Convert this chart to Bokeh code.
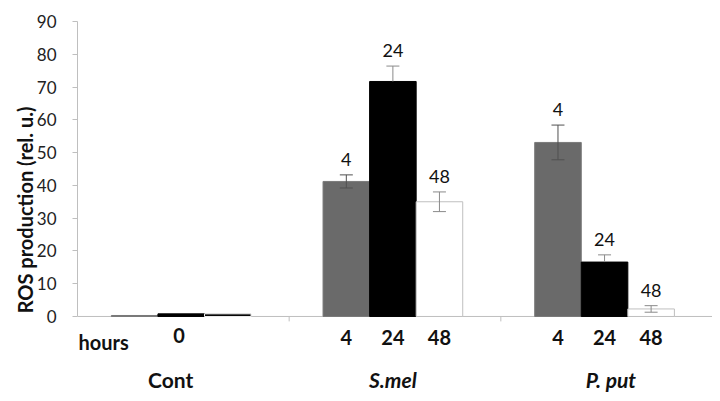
from bokeh.plotting import figure
from bokeh.models import Range1d, ColumnDataSource, Whisker, TeeHead, FixedTicker
from bokeh.embed import file_html
from bokeh.resources import INLINE
from bokeh.core.properties import value

# ---- data ----
groups = ["Cont", "S.mel", "P. put"]
group_style = ["bold", "bold italic", "bold italic"]
hour_labels = ["4", "24", "48"]
cont_hour = "0"
gray_vals = [0.3, 41.2, 53.1]
gray_err = [0.0, 2.0, 5.3]
black_vals = [0.8, 71.7, 16.6]
black_err = [0.0, 4.7, 2.2]
white_vals = [0.8, 35.0, 2.3]
white_err = [0.0, 3.0, 1.0]
y_ticks = [0, 10, 20, 30, 40, 50, 60, 70, 80, 90]

FONT = "Lato"
W, H = 712, 393

p = figure(width=W, height=H, output_backend="svg", toolbar_location=None,
           x_range=Range1d(0, 3), y_range=Range1d(-23.5, 90),
           min_border_left=77, min_border_right=0, min_border_top=21, min_border_bottom=0)
p.outline_line_color = None
p.grid.grid_line_color = None
p.xaxis.visible = False

# y axis (line limited to 0..90)
yax = p.yaxis[0]
yax.bounds = (0, 90)
yax.ticker = FixedTicker(ticks=y_ticks)
yax.axis_line_color = "#bfbfbf"
yax.major_tick_line_color = "#bfbfbf"
yax.major_tick_out = 5
yax.major_tick_in = 0
yax.minor_tick_line_color = None
yax.major_label_text_font = FONT
yax.major_label_text_font_size = "17px"
yax.major_label_text_color = "#222222"
yax.major_label_standoff = 16
yax.axis_label = "ROS  production (rel. u.)"
yax.axis_label_text_font = FONT
yax.axis_label_text_font_size = "20px"
yax.axis_label_text_font_style = "bold"
yax.axis_label_text_color = "#111111"
yax.axis_label_standoff = -3

# x axis line and group boundary ticks, drawn in data space
p.segment(x0=[0], y0=[0], x1=[3], y1=[0], line_color="#bfbfbf", line_width=1)
p.segment(x0=[1, 2, 3], y0=[0, 0, 0], x1=[1, 2, 3], y1=[-1.5, -1.5, -1.5],
          line_color="#bfbfbf", line_width=1)

bw = 0.22
off = [-0.22, 0.0, 0.22]
centers = [g + 0.49 for g in range(3)]
gx = [c + off[0] for c in centers]
bx = [c + off[1] for c in centers]
wx = [c + off[2] for c in centers]

p.vbar(x=gx, top=gray_vals, width=bw, fill_color="#6a6a6a", line_color="#7a7a7a", line_width=1)
p.vbar(x=bx, top=black_vals, width=bw, fill_color="black", line_color="black", line_width=1)
white_fill = ["black", "white", "white"]
white_line = ["#eeeeee", "#bfbfbf", "#bfbfbf"]
p.vbar(x=wx, top=white_vals, width=bw, fill_color=white_fill, line_color=white_line, line_width=1)

# error bars
idx = [i for i in range(3) if gray_err[i] > 0]
src_g = ColumnDataSource(dict(x=[gx[i] for i in idx],
                              lo=[gray_vals[i] - gray_err[i] for i in idx],
                              hi=[gray_vals[i] + gray_err[i] for i in idx]))
src_b = ColumnDataSource(dict(x=[bx[i] for i in idx],
                              lo=[black_vals[i] for i in idx],
                              hi=[black_vals[i] + black_err[i] for i in idx]))
src_w = ColumnDataSource(dict(x=[wx[i] for i in idx],
                              lo=[white_vals[i] - white_err[i] for i in idx],
                              hi=[white_vals[i] + white_err[i] for i in idx]))
for src, col, lowhead in [(src_g, "#505050", True), (src_b, "#8a8a8a", False), (src_w, "#8a8a8a", True)]:
    wk = Whisker(base="x", lower="lo", upper="hi", source=src, line_color=col, line_width=1,
                 upper_head=TeeHead(size=13, line_color=col, line_width=1),
                 lower_head=TeeHead(size=13, line_color=col, line_width=1) if lowhead else None,
                 level="glyph")
    p.add_layout(wk)

# value labels above error bars
lab_x, lab_y, lab_t = [], [], []
for i in idx:
    for xs, v, e, t in [(gx, gray_vals, gray_err, hour_labels[0]),
                        (bx, black_vals, black_err, hour_labels[1]),
                        (wx, white_vals, white_err, hour_labels[2])]:
        lab_x.append(xs[i]); lab_y.append(v[i] + e[i]); lab_t.append(t)
p.text(x=lab_x, y=lab_y, text=lab_t, text_align="center", text_baseline="bottom",
       y_offset=-9, text_font=value(FONT), text_font_size="18px", text_color="#111111")

# category texts below the axis (inside the frame)
hx = [gx[g] for g in (1, 2)] + [bx[g] for g in (1, 2)] + [wx[g] for g in (1, 2)]
ht = [hour_labels[0]] * 2 + [hour_labels[1]] * 2 + [hour_labels[2]] * 2
p.text(x=hx, y=[-6.3] * len(hx), text=ht, text_align="center", text_baseline="middle",
       text_font=value(FONT), text_font_size="20px", text_font_style="bold", text_color="#111111")
p.text(x=[centers[0] - 0.01], y=[-5.8], text=[cont_hour], text_align="center", text_baseline="middle",
       text_font=value(FONT), text_font_size="20px", text_font_style="bold", text_color="#111111")
p.text(x=[0.005], y=[-7.9], text=["hours"], text_align="left", text_baseline="middle",
       text_font=value(FONT), text_font_size="20px", text_font_style="bold", text_color="#111111")
for g in range(3):
    p.text(x=[centers[g] + [-0.05, 0.0, 0.03][g]], y=[-19.2], text=[groups[g]],
           text_align="center", text_baseline="middle",
           text_font=value(FONT), text_font_size="21px", text_font_style=group_style[g],
           text_color="#111111")

open("out.html", "w").write(file_html(p, INLINE))
